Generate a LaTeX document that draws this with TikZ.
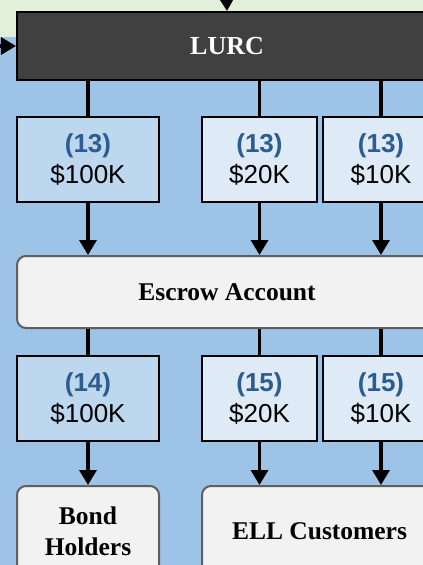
\documentclass[tikz,border=0pt]{standalone}
\usepackage{fontspec}
\setmainfont{Liberation Serif}
\setsansfont{Liberation Sans}
\usetikzlibrary{arrows.meta}
\definecolor{bggreen}{HTML}{E2EFDA}
\definecolor{bgblue}{HTML}{9DC3E6}
\definecolor{darkbox}{HTML}{404040}
\definecolor{midblue}{HTML}{BDD7EE}
\definecolor{paleblue}{HTML}{DEEBF7}
\definecolor{lightgray}{HTML}{F2F2F2}
\definecolor{bordergray}{HTML}{5F5F5F}
\definecolor{numblue}{HTML}{2C5D8E}
\tikzset{
  amtbox/.style={draw=black, line width=2pt, inner sep=0pt, anchor=north west,
    minimum height=85pt, align=center, font=\sffamily\fontsize{26}{31}\selectfont},
  roundbox/.style={draw=bordergray, fill=lightgray, line width=2pt, rounded corners=9pt,
    inner sep=0pt, anchor=north west, align=center, font=\bfseries\fontsize{25.5}{31}\selectfont},
  conn/.style={line width=3.2pt},
  arr/.style={line width=3.2pt, -{Triangle[width=17pt,length=15pt]}},
}
\newcommand{\amt}[2]{{\bfseries\color{numblue}(#1)}\\#2}
\begin{document}
\begin{tikzpicture}[x=1pt,y=-1pt]
\useasboundingbox (0,0) rectangle (423,565);
\clip (0,0) rectangle (423,565);
\fill[bggreen] (0,-10) rectangle (440,40);
\fill[bgblue] (0,37) rectangle (440,580);
% LURC
\node[draw=black, fill=darkbox, line width=2pt, anchor=north west, inner sep=0pt,
  minimum width=420pt, minimum height=68pt, text=white,
  font=\bfseries\fontsize{26}{31}\selectfont] (lurc) at (16,11) {LURC};
\coordinate (topin) at (226,-20);
\coordinate (leftin) at (-20,46);
\draw[arr] (topin) -- (lurc.north);
\draw[arr] (leftin) -- (leftin -| lurc.west);
% row 1
\node[amtbox, fill=midblue, minimum width=142pt] (a1) at (16,116) {\amt{13}{\$100K}};
\node[amtbox, fill=paleblue, minimum width=115pt] (b1) at (201,116) {\amt{13}{\$20K}};
\node[amtbox, fill=paleblue, minimum width=116pt] (c1) at (322,116) {\amt{13}{\$10K}};
% escrow
\node[roundbox, minimum width=420pt, minimum height=72pt] (esc) at (16,255) {Escrow Account};
% row 2
\node[amtbox, fill=midblue, minimum width=142pt] (a2) at (16,355) {\amt{14}{\$100K}};
\node[amtbox, fill=paleblue, minimum width=115pt] (b2) at (201,355) {\amt{15}{\$20K}};
\node[amtbox, fill=paleblue, minimum width=116pt] (c2) at (322,355) {\amt{15}{\$10K}};
% bottom
\node[roundbox, minimum width=142pt, minimum height=90pt] (bond) at (16,485) {Bond\\Holders};
\node[roundbox, minimum width=235pt, minimum height=90pt] (ell) at (201,485) {ELL Customers};
% connectors
\foreach \n in {a1,b1,c1}{
  \draw[conn] (lurc.south -| \n.north) -- (\n.north);
  \draw[arr] (\n.south) -- (\n.south |- esc.north);
}
\foreach \n in {a2,b2,c2}{
  \draw[conn] (esc.south -| \n.north) -- (\n.north);
}
\draw[arr] (a2.south) -- (bond.north);
\draw[arr] (b2.south) -- (b2.south |- ell.north);
\draw[arr] (c2.south) -- (c2.south |- ell.north);
\end{tikzpicture}
\end{document}
